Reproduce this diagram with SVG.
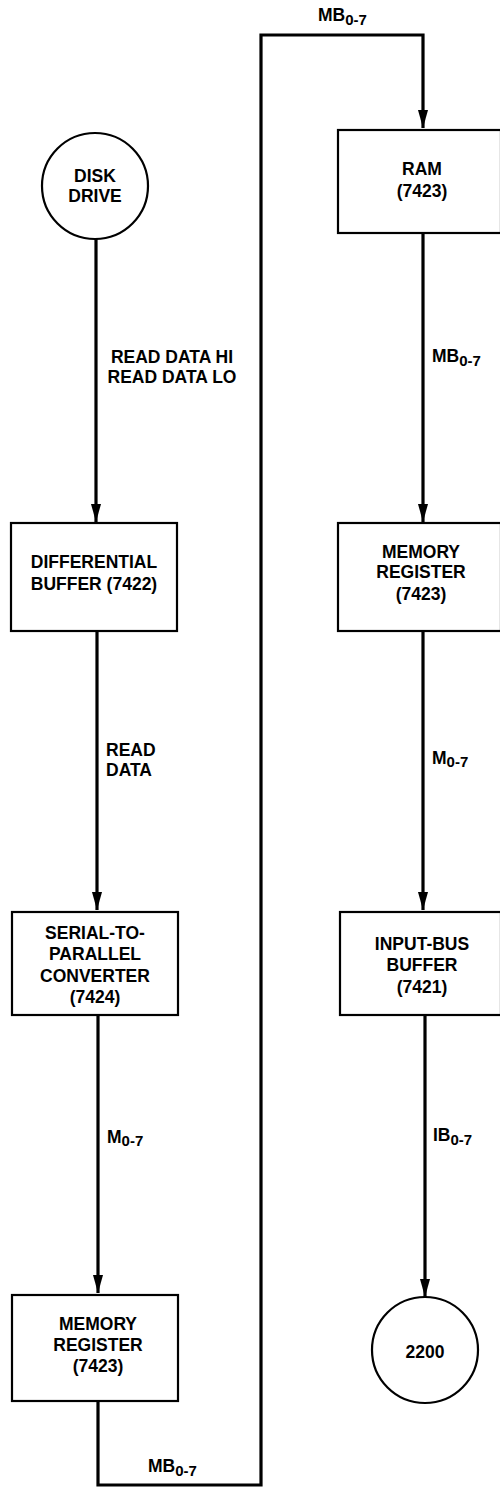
<svg xmlns="http://www.w3.org/2000/svg" width="500" height="1488" viewBox="0 0 500 1488">
<style>
.box{fill:#fff;stroke:#000;stroke-width:2.2}
.t{font-family:"Liberation Sans",Arial,Helvetica,sans-serif;font-weight:bold;font-size:17.5px;fill:#000;text-anchor:middle}
.l{font-family:"Liberation Sans",Arial,Helvetica,sans-serif;font-weight:bold;font-size:17.5px;fill:#000}
.c{fill:none;stroke:#000;stroke-width:3.2}
</style>
<defs>
<marker id="ah" markerUnits="userSpaceOnUse" markerWidth="18" markerHeight="10" refX="18" refY="5" orient="auto">
<path d="M0,0 L18,5 L0,10 z" fill="#000"/>
</marker>
</defs>
<rect width="500" height="1488" fill="#fff"/>
<g id="connectors">
<path class="c" d="M96,239 V522" marker-end="url(#ah)"/>
<path class="c" d="M97,631 V910" marker-end="url(#ah)"/>
<path class="c" d="M98,1015 V1293" marker-end="url(#ah)"/>
<path class="c" d="M98,1401 V1485 H261 V35 H423 V128" marker-end="url(#ah)"/>
<path class="c" d="M423,233 V522" marker-end="url(#ah)"/>
<path class="c" d="M423,631 V910" marker-end="url(#ah)"/>
<path class="c" d="M425,1015 V1297" marker-end="url(#ah)"/>
<text class="l" x="318" y="21">MB<tspan font-size="15" dy="4">0-7</tspan></text>
<text class="t" x="172" y="363">READ DATA HI</text>
<text class="t" x="172" y="383">READ DATA LO</text>
<text class="l" x="432" y="362">MB<tspan font-size="15" dy="4">0-7</tspan></text>
<text class="l" x="106" y="756">READ</text>
<text class="l" x="106" y="776">DATA</text>
<text class="l" x="432" y="764">M<tspan font-size="15" dy="3">0-7</tspan></text>
<text class="l" x="107" y="1143">M<tspan font-size="15" dy="3">0-7</tspan></text>
<text class="l" x="433" y="1141">IB<tspan font-size="15" dy="4">0-7</tspan></text>
<text class="l" x="148" y="1472">MB<tspan font-size="15" dy="4">0-7</tspan></text>
</g>
<g id="disk-drive">
<circle class="box" cx="95" cy="186" r="53"/>
<text class="t" x="95" y="182">DISK</text>
<text class="t" x="95" y="202">DRIVE</text>
</g>
<g id="differential-buffer">
<rect class="box" x="11" y="523" width="166" height="108"/>
<text class="t" x="94" y="568">DIFFERENTIAL</text>
<text class="t" x="94" y="590">BUFFER (7422)</text>
</g>
<g id="serial-to-parallel">
<rect class="box" x="12" y="912" width="166" height="103"/>
<text class="t" x="95" y="939">SERIAL-TO-</text>
<text class="t" x="95" y="960">PARALLEL</text>
<text class="t" x="95" y="982">CONVERTER</text>
<text class="t" x="95" y="1003">(7424)</text>
</g>
<g id="memory-register-left">
<rect class="box" x="12" y="1295" width="166" height="106"/>
<text class="t" x="98" y="1330">MEMORY</text>
<text class="t" x="98" y="1351">REGISTER</text>
<text class="t" x="98" y="1372">(7423)</text>
</g>
<g id="ram">
<rect class="box" x="338" y="130" width="163" height="103"/>
<text class="t" x="422" y="175">RAM</text>
<text class="t" x="422" y="197">(7423)</text>
</g>
<g id="memory-register-right">
<rect class="box" x="338" y="523" width="163" height="108"/>
<text class="t" x="421" y="558">MEMORY</text>
<text class="t" x="421" y="578">REGISTER</text>
<text class="t" x="421" y="600">(7423)</text>
</g>
<g id="input-bus-buffer">
<rect class="box" x="340" y="912" width="161" height="103"/>
<text class="t" x="422" y="950">INPUT-BUS</text>
<text class="t" x="422" y="971">BUFFER</text>
<text class="t" x="422" y="993">(7421)</text>
</g>
<g id="cpu-2200">
<circle class="box" cx="425" cy="1350" r="53"/>
<text class="t" x="425" y="1358">2200</text>
</g>
</svg>
